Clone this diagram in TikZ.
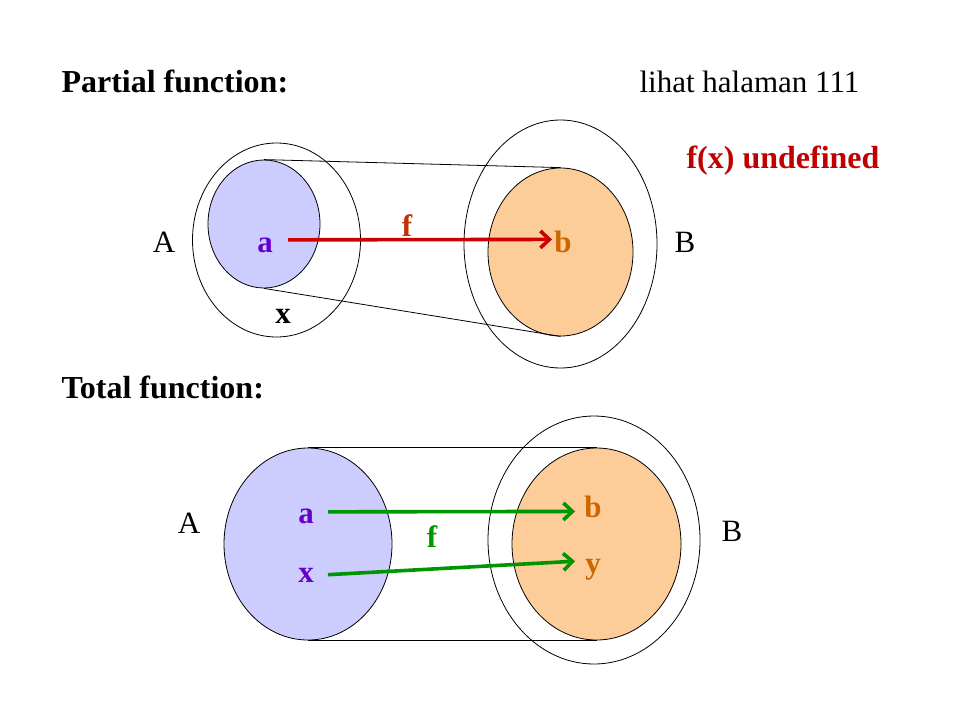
\documentclass[tikz,border=0pt]{standalone}
\usepackage{fontspec}
\setmainfont{Liberation Serif}
\usetikzlibrary{arrows.meta,shapes.geometric}
\definecolor{domblue}{RGB}{204,204,255}
\definecolor{codorange}{RGB}{252,204,153}
\definecolor{elpurple}{RGB}{102,0,204}
\definecolor{elorange}{RGB}{204,102,0}
\definecolor{mapred}{RGB}{204,0,0}
\definecolor{labred}{RGB}{192,48,0}
\definecolor{undefred}{RGB}{192,0,0}
\definecolor{mapgreen}{RGB}{0,150,0}

\begin{document}
\begin{tikzpicture}[x=1pt, y=-1pt, >={Straight Barb[length=9pt, width=17pt]}, set/.style={draw, ellipse, inner sep=0pt, line width=0.8pt}, dom/.style={set, fill=domblue}, cod/.style={set, fill=codorange}, lbl/.style={font=\fontsize{31}{36}\selectfont, anchor=base}, el/.style={font=\fontsize{31}{36}\selectfont\bfseries, anchor=base}, title/.style={font=\fontsize{32}{38}\selectfont\bfseries, anchor=base west}, map/.style={->, line width=3.6pt}]
	\useasboundingbox (0,0) rectangle (960,720);
	\node[title] (t1) at (58,92) {Partial function:};
	\node[lbl, anchor=base west] (ref) at (636,92) {lihat halaman 111};
	\node[title, text=undefred] (undef) at (683,168) {f(x) undefined};
	\node[set, minimum width=168pt, minimum height=194pt] (pA) at (276.5,240) {};
	\node[set, minimum width=193pt, minimum height=248pt] (pB) at (560.5,244) {};
	\node[dom, minimum width=112pt, minimum height=128pt] (pdom) at (264,224) {};
	\node[cod, minimum width=145pt, minimum height=168pt] (pcod) at (560.5,252) {};
	\draw[line width=0.8pt] (pdom.north) -- (pcod.north);
	\draw[line width=0.8pt] (pdom.south) -- (pcod.south);
	\node[lbl] (pAl) at (164,252) {A};
	\node[lbl] (pBl) at (685,252) {B};
	\node[el, text=elpurple] (pa) at (265,252) {a};
	\node[el, text=elorange] (pb) at (563,252) {b};
	\node[el] (px) at (283,323) {x};
	\node[el, text=labred] (pf) at (407,236) {f};
	\draw[map, mapred, shorten <=23pt, shorten >=11pt] ([yshift=5pt]pa.center) -- ([yshift=2pt]pb.center);
	\node[title] (t2) at (58,398) {Total function:};
	\node[dom, minimum width=168pt, minimum height=192pt] (tdom) at (308,544) {};
	\node[set, minimum width=212pt, minimum height=248pt] (tB) at (594,540) {};
	\node[cod, minimum width=169pt, minimum height=192pt] (tcod) at (596.5,544) {};
	\draw[line width=0.8pt] (tdom.north) -- (tcod.north);
	\draw[line width=0.8pt] (tdom.south) -- (tcod.south);
	\node[lbl] (tAl) at (189,533) {A};
	\node[lbl] (tBl) at (732,541) {B};
	\node[el, text=elpurple] (ta) at (306,523) {a};
	\node[el, text=elpurple] (tx) at (306,582) {x};
	\node[el, text=elorange] (tb) at (593,517) {b};
	\node[el, text=elorange] (ty) at (593,573) {y};
	\node[el, text=mapgreen] (tf) at (432,547) {f};
	\draw[map, mapgreen, shorten <=22pt, shorten >=18pt] ([yshift=4pt]ta.center) -- ([yshift=-5pt]tb.center);
	\draw[map, mapgreen, shorten <=22pt, shorten >=18pt] ([yshift=-1pt]tx.center) -- ([yshift=9pt]ty.center);
\end{tikzpicture}
\end{document}
